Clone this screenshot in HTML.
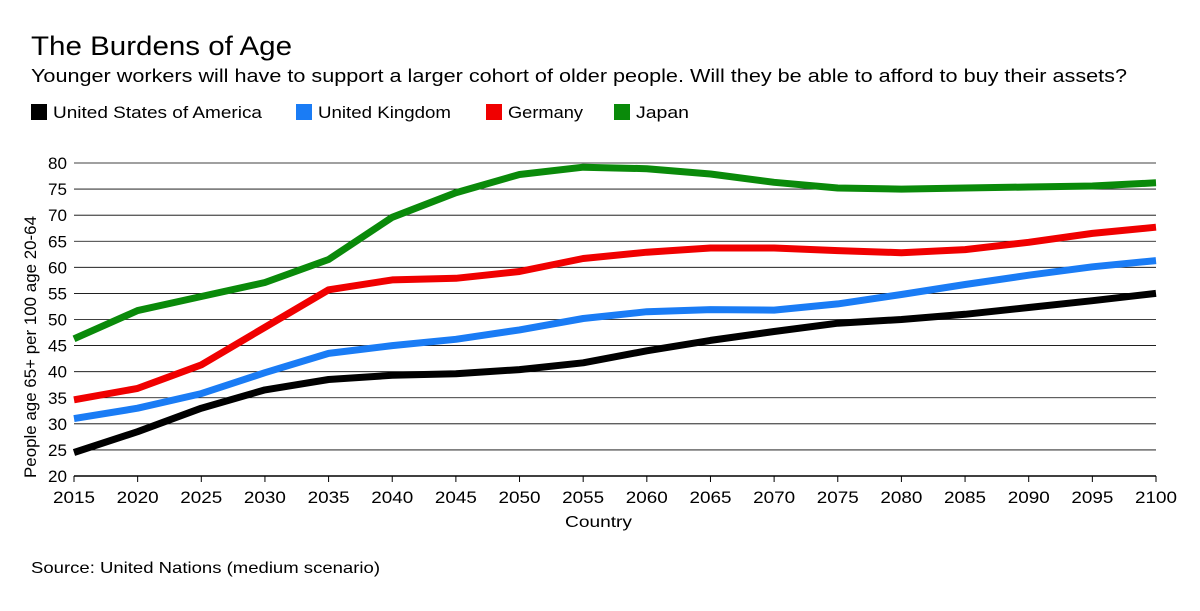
<!DOCTYPE html>
<html><head><meta charset="utf-8"><style>
body{margin:0;background:#fff;font-family:"Liberation Sans",sans-serif;}
#wrap{position:relative;width:1200px;height:611px;overflow:hidden;}
</style></head><body>
<div id="wrap">
<svg id="chart" width="1200" height="611">
<text x="31" y="55" font-size="27" textLength="261" lengthAdjust="spacingAndGlyphs" fill="#000">The Burdens of Age</text>
<text x="31" y="82" font-size="18" textLength="1096" lengthAdjust="spacingAndGlyphs" fill="#000">Younger workers will have to support a larger cohort of older people. Will they be able to afford to buy their assets?</text>
<g id="legend"></g>
<g id="grid"></g>
<g id="yaxis"></g>
<g id="xaxis"></g>
<g id="series"></g>
<text x="565" y="527" font-size="16" textLength="67" lengthAdjust="spacingAndGlyphs">Country</text>
<text transform="translate(36,347) rotate(-90)" font-size="17" text-anchor="middle" textLength="262" lengthAdjust="spacingAndGlyphs">People age 65+ per 100 age 20-64</text>
<text x="31" y="573" font-size="16" textLength="349" lengthAdjust="spacingAndGlyphs">Source: United Nations (medium scenario)</text>
</svg>
</div>
<script>
const years=[2015,2020,2025,2030,2035,2040,2045,2050,2055,2060,2065,2070,2075,2080,2085,2090,2095,2100];
const yTicks=[20,25,30,35,40,45,50,55,60,65,70,75,80];
const seriesNames=["United States of America","United Kingdom","Germany","Japan"];
const seriesColors=["#000000","#1a7cf5","#f00000","#0a8a0a"];
const usa=[24.5,28.5,33,36.5,38.5,39.3,39.6,40.4,41.7,44,46,47.7,49.3,50,51,52.3,53.6,55];
const uk=[31,33,35.8,39.8,43.5,45,46.2,48,50.2,51.5,51.9,51.8,53,54.8,56.7,58.5,60.1,61.3];
const germany=[34.6,36.8,41.3,48.5,55.7,57.6,57.9,59.2,61.7,62.9,63.7,63.7,63.2,62.8,63.4,64.8,66.5,67.7];
const japan=[46.3,51.7,54.4,57.1,61.5,69.6,74.3,77.8,79.2,78.9,77.9,76.3,75.2,75,75.2,75.4,75.6,76.2];
const NS="http://www.w3.org/2000/svg";
const x0=74,x1=1156,y0=476,y1=163;
function xs(v){return x0+(v-2015)/(2100-2015)*(x1-x0);}
function ys(v){return y0-(v-20)/(80-20)*(y0-y1);}
function mk(t,a,p){const e=document.createElementNS(NS,t);for(const k in a)e.setAttribute(k,a[k]);p.appendChild(e);return e;}
const grid=document.getElementById('grid'),ya=document.getElementById('yaxis'),xa=document.getElementById('xaxis');
yTicks.forEach(t=>{
 const l=mk('line',{x1:x0,x2:x1,y1:ys(t),y2:ys(t),stroke:'#000','stroke-width':t===20?1.5:0.8},grid);
 
 
 const tx=mk('text',{x:67,y:ys(t)+6,'font-size':17,'text-anchor':'end',textLength:19,lengthAdjust:'spacingAndGlyphs'},ya);tx.textContent=t;
 
 
});
years.forEach((yr,i)=>{
 const tk=mk('line',{x1:xs(yr),x2:xs(yr),y1:476,y2:482,stroke:'#000','stroke-width':1},xa);
 
 
 const tx=mk('text',{x:xs(yr),y:503,'font-size':17,'text-anchor':'middle',textLength:42,lengthAdjust:'spacingAndGlyphs'},xa);tx.textContent=yr;
 
 
});
const data=[usa,uk,germany,japan];
const sg=document.getElementById('series');
data.forEach((s,i)=>{
 const d=s.map((v,j)=>(j?'L':'M')+xs(years[j]).toFixed(1)+' '+ys(v).toFixed(1)).join(' ');
 const p=mk('path',{d:d,fill:'none',stroke:seriesColors[i],'stroke-width':7,'stroke-linejoin':'round'},sg);
 
 
});
const lg=document.getElementById('legend');
const lx=[31,296,486,614];
const lw=[209,133,75,53];
seriesNames.forEach((n,i)=>{
 const r=mk('rect',{x:lx[i],y:104,width:16,height:16,fill:seriesColors[i]},lg);
 
 
 const t=mk('text',{x:lx[i]+22,y:118,'font-size':17,textLength:lw[i],lengthAdjust:'spacingAndGlyphs'},lg);t.textContent=n;
 
 
});
</script>
</body></html>
